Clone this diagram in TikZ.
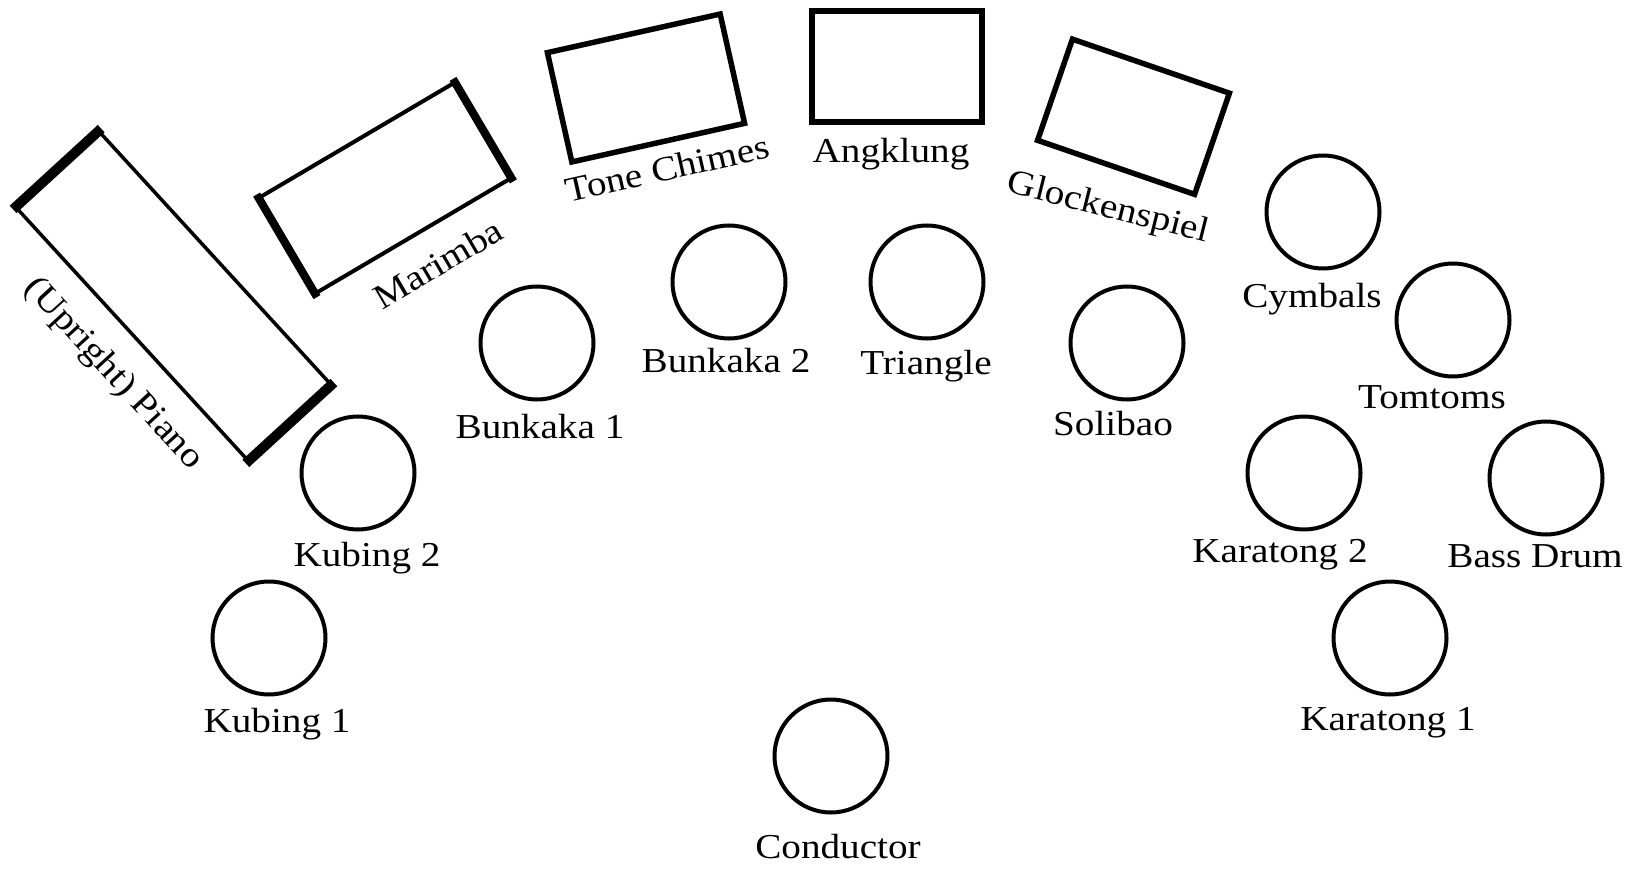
\documentclass[tikz,border=0pt]{standalone}
\usepackage{fontspec}
\setmainfont[FakeStretch=1.12]{Liberation Serif}
\begin{document}
\begin{tikzpicture}[x=1pt,y=-1pt,
  inst/.style={circle,draw,line width=4pt,minimum size=113pt,inner sep=0pt},
  lab/.style={font=\fontsize{35}{40}\selectfont,inner sep=0pt,anchor=base},
  box/.style={rectangle,draw,line width=5.5pt,inner sep=0pt},
  thickend/.style={line width=#1}
]
\useasboundingbox (0,0) rectangle (1634,869);

% rectangles
\node[box,line width=3.5pt,minimum width=341pt,minimum height=112.5pt,rotate=-47.5] (piano) at (173.5,296) {};
\draw[thickend=10pt,shorten <=-1.75pt,shorten >=-1.75pt] (piano.north west) -- (piano.south west);
\draw[thickend=10pt,shorten <=-1.75pt,shorten >=-1.75pt] (piano.north east) -- (piano.south east);

\node[box,line width=4pt,minimum width=224pt,minimum height=111pt,rotate=30.5] (marimba) at (385,188) {};
\draw[thickend=8pt,shorten <=-2pt,shorten >=-2pt] (marimba.north west) -- (marimba.south west);
\draw[thickend=8pt,shorten <=-2pt,shorten >=-2pt] (marimba.north east) -- (marimba.south east);

\node[box,minimum width=177pt,minimum height=112pt,rotate=12.6] (tone) at (646,88) {};
\node[box,minimum width=170pt,minimum height=111pt] (angk) at (897,66.5) {};
\node[box,minimum width=166pt,minimum height=107pt,rotate=-19] (glock) at (1133.5,116.75) {};

% rectangle labels
\node[lab,anchor=center,rotate=-47.5] (pianol) at (113,374) {(Upright) Piano};
\node[lab,rotate=30.5] (marimbal) at (444,274) {Marimba};
\node[lab,rotate=12.6] (tonel) at (670,180) {Tone Chimes};
\node[lab] (angkl) at (891,163) {Angklung};
\node[lab,rotate=-14] (glockl) at (1106,217) {Glockenspiel};

% circles
\node[inst] (kub1) at (269,638) {};
\node[inst] (kub2) at (358,473) {};
\node[inst] (bun1) at (537,343) {};
\node[inst] (bun2) at (729,282) {};
\node[inst] (tri) at (927,282) {};
\node[inst] (sol) at (1127,343) {};
\node[inst] (cym) at (1323,212) {};
\node[inst] (tom) at (1453,320) {};
\node[inst] (kar2) at (1304,473) {};
\node[inst] (bass) at (1546,478) {};
\node[inst] (kar1) at (1390,638) {};
\node[inst] (cond) at (831,756) {};

% circle labels
\node[lab] (kub1l) at (277,732) {Kubing 1};
\node[lab] (kub2l) at (367,566) {Kubing 2};
\node[lab] (bun1l) at (540,438) {Bunkaka 1};
\node[lab] (bun2l) at (726,372) {Bunkaka 2};
\node[lab] (tril) at (926,374) {Triangle};
\node[lab] (soll) at (1113,435) {Solibao};
\node[lab] (cyml) at (1312,307) {Cymbals};
\node[lab] (toml) at (1432,408) {Tomtoms};
\node[lab] (kar2l) at (1280,562) {Karatong 2};
\node[lab] (bassl) at (1535,567) {Bass Drum};
\node[lab] (kar1l) at (1388,730) {Karatong 1};
\node[lab] (condl) at (838,858) {Conductor};
\end{tikzpicture}
\end{document}
